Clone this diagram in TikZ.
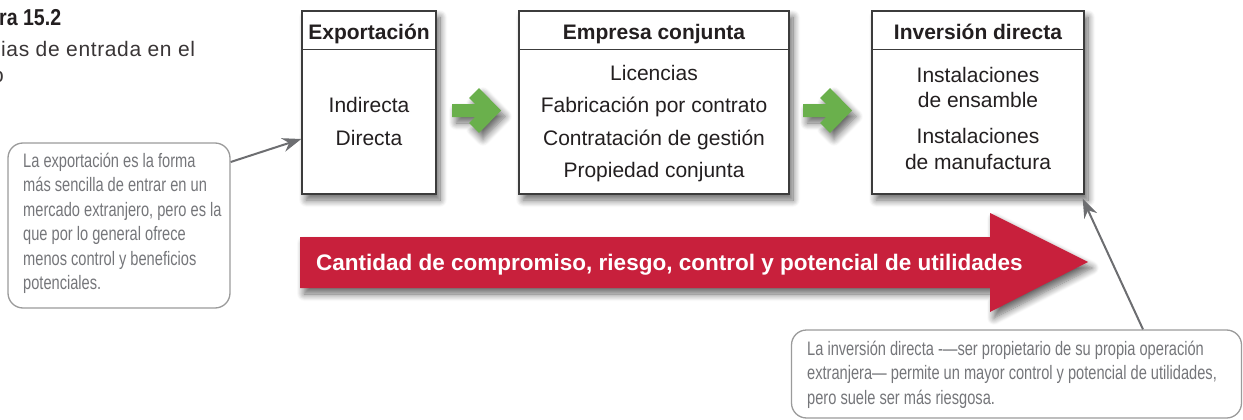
\documentclass[tikz,border=0pt]{standalone}
\usepackage{fontspec}
\setmainfont{Liberation Sans}
\newfontfamily\condfont[FakeStretch=0.75]{Liberation Sans}
\newfontfamily\condbold[FakeStretch=0.85]{Liberation Sans}
\newfontfamily\spacedfont[LetterSpace=3]{Liberation Sans}
\usetikzlibrary{shadows.blur,arrows.meta}
\definecolor{boxline}{HTML}{3C3C3C}
\definecolor{txt}{HTML}{231F20}
\definecolor{callgray}{HTML}{75767A}
\definecolor{callline}{HTML}{9B9B9B}
\definecolor{arrgray}{HTML}{6D6E71}
\definecolor{grn}{HTML}{6AB04C}
\definecolor{rd}{HTML}{C8203C}
\tikzset{
  shd/.style={blur shadow={shadow xshift=4pt, shadow yshift=-6pt, shadow blur radius=7pt, shadow opacity=60, shadow blur steps=10}},
  box/.style={draw=boxline, line width=1.4pt, fill=white, inner sep=0pt, minimum height=183pt, shd},
  hd/.style={font=\fontsize{21pt}{25pt}\selectfont\bfseries, text=txt, anchor=base, inner sep=0pt},
  bd/.style={font=\fontsize{21pt}{25pt}\selectfont, text=txt, anchor=base, inner sep=0pt},
  ct/.style={font=\condfont\fontsize{19.5pt}{24.5pt}\selectfont, text=callgray, anchor=base west, inner sep=0pt},
  callout/.style={draw=callline, line width=1.3pt, rounded corners=15pt, inner sep=0pt, fill=white},
  ptr/.style={draw=arrgray, line width=2pt, -{Stealth[length=19pt,width=14pt]}},
  grnarrow/.style={fill=grn, shd},
}
\begin{document}
\begin{tikzpicture}[x=1pt,y=-1pt]
\useasboundingbox (0,0) rectangle (1243,420);
% title (cropped)
\node[anchor=base west, inner sep=0pt, font=\condbold\bfseries\fontsize{23pt}{27pt}\selectfont, text=txt] (t1) at (-1,26) {ra 15.2};
\node[anchor=base west, inner sep=0pt, font=\spacedfont\fontsize{21pt}{25pt}\selectfont, text=txt!90] (t2) at (1,57) {ias de entrada en el};
\node[anchor=base west, inner sep=0pt, font=\spacedfont\fontsize{21pt}{25pt}\selectfont, text=txt!90] (t3) at (-8,82) {o};

% boxes
\node[box, minimum width=134pt] (b1) at (369,102.5) {};
\node[box, minimum width=270pt] (b2) at (654,102.5) {};
\node[box, minimum width=212pt] (b3) at (978,102.5) {};
\foreach \b in {b1,b2,b3}
  \draw[boxline, line width=1.2pt] ([yshift=-39pt]\b.north west) -- ([yshift=-39pt]\b.north east);

\node[hd] (h1) at (369,40) {Exportación};
\node[hd] (h2) at (654,40) {Empresa conjunta};
\node[hd] (h3) at (978,40) {Inversión directa};

\node[bd] (b1a) at (369,113) {Indirecta};
\node[bd] (b1b) at (369,145) {Directa};

\node[bd] (b2a) at (654,81) {Licencias};
\node[bd] (b2b) at (654,113) {Fabricación por contrato};
\node[bd] (b2c) at (654,145) {Contratación de gestión};
\node[bd] (b2d) at (654,177) {Propiedad conjunta};

\node[bd] (b3a) at (978,82) {Instalaciones};
\node[bd] (b3b) at (978,107) {de ensamble};
\node[bd] (b3c) at (978,143) {Instalaciones};
\node[bd] (b3d) at (978,169) {de manufactura};

% green arrows
\foreach \dx in {-351,0}{
  \begin{scope}[shift={(\dx,0)}]
  \path[grnarrow] (803,104) -- (826,104) -- (820,98) -- (830,88) -- (852,110.5) -- (830,133) -- (820,123) -- (826,117) -- (803,117) -- cycle;
  \end{scope}
}

% red arrow
\path[fill=rd, shd] (300,237) -- (990,237) -- (990,213) -- (1088,262) -- (990,312) -- (990,288) -- (300,288) -- cycle;
\node[anchor=base west, inner sep=0pt, font=\fontsize{22.5pt}{26pt}\selectfont\bfseries, text=white] (lbl) at (316,270) {Cantidad de compromiso, riesgo, control y potencial de utilidades};

% callout 1
\node[callout, minimum width=222pt, minimum height=165pt] (c1) at (119,225.5) {};
\node[ct] (c1l1) at (23,167) {La exportación es la forma};
\node[ct] (c1l2) at (23,191.5) {más sencilla de entrar en un};
\node[ct] (c1l3) at (23,216) {mercado extranjero, pero es la};
\node[ct] (c1l4) at (23,240.5) {que por lo general ofrece};
\node[ct] (c1l5) at (23,265) {menos control y beneficios};
\node[ct] (c1l6) at (23,289.5) {potenciales.};

% callout 2
\node[callout, minimum width=450pt, minimum height=88pt] (c2) at (1016.5,374) {};
\node[ct] (c2l1) at (807,355) {La inversión directa -—ser propietario de su propia operación};
\node[ct] (c2l2) at (807,379.5) {extranjera— permite un mayor control y potencial de utilidades,};
\node[ct] (c2l3) at (807,404) {pero suele ser más riesgosa.};

% pointers
\draw[ptr] ([yshift=63.5pt]c1.east) -- ([yshift=-36.5pt]b1.west);
\draw[ptr] ([xshift=126.5pt]c2.north) -- ([xshift=-2pt,yshift=-4pt]b3.south east);
\end{tikzpicture}
\end{document}
